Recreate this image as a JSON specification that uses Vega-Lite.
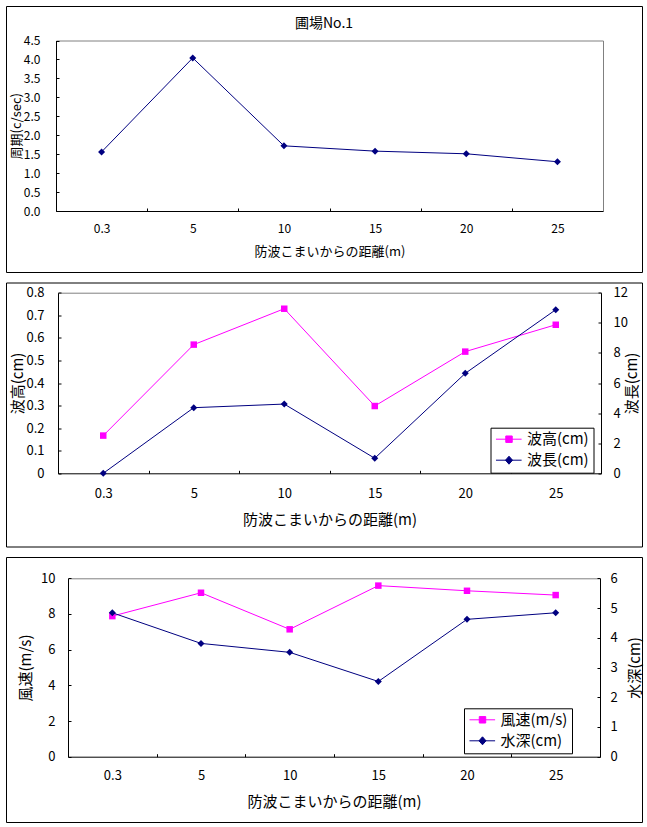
{
  "$schema": "https://vega.github.io/schema/vega-lite/v6.json",
  "padding": {"left": 5, "top": 5, "right": 0, "bottom": 0},
  "spacing": 8.5,
  "datasets": {
    "p1": [
      {"d": "0.3", "v": 1.56},
      {"d": "5", "v": 4.04},
      {"d": "10", "v": 1.72},
      {"d": "15", "v": 1.58},
      {"d": "20", "v": 1.51},
      {"d": "25", "v": 1.30}
    ],
    "p2": [
      {"d": "0.3", "s": "波高(cm)", "v": 0.167},
      {"d": "5", "s": "波高(cm)", "v": 0.570},
      {"d": "10", "s": "波高(cm)", "v": 0.729},
      {"d": "15", "s": "波高(cm)", "v": 0.298},
      {"d": "20", "s": "波高(cm)", "v": 0.539},
      {"d": "25", "s": "波高(cm)", "v": 0.658},
      {"d": "0.3", "s": "波長(cm)", "v": 0},
      {"d": "5", "s": "波長(cm)", "v": 4.36},
      {"d": "10", "s": "波長(cm)", "v": 4.6},
      {"d": "15", "s": "波長(cm)", "v": 1.0},
      {"d": "20", "s": "波長(cm)", "v": 6.64},
      {"d": "25", "s": "波長(cm)", "v": 10.87}
    ],
    "p3": [
      {"d": "0.3", "s": "風速(m/s)", "v": 7.88},
      {"d": "5", "s": "風速(m/s)", "v": 9.19},
      {"d": "10", "s": "風速(m/s)", "v": 7.14},
      {"d": "15", "s": "風速(m/s)", "v": 9.59},
      {"d": "20", "s": "風速(m/s)", "v": 9.30},
      {"d": "25", "s": "風速(m/s)", "v": 9.06},
      {"d": "0.3", "s": "水深(cm)", "v": 4.84},
      {"d": "5", "s": "水深(cm)", "v": 3.81},
      {"d": "10", "s": "水深(cm)", "v": 3.51},
      {"d": "15", "s": "水深(cm)", "v": 2.53},
      {"d": "20", "s": "水深(cm)", "v": 4.62},
      {"d": "25", "s": "水深(cm)", "v": 4.84}
    ]
  },
  "vconcat": [
    {
      "width": 636,
      "height": 266,
      "title": {"text": "圃場No.1", "fontSize": 14, "fontWeight": "normal", "offset": -31.5, "baseline": "middle", "color": "black"},
      "data": {"name": "p1"},
      "layer": [
        {
          "mark": {"type": "line", "color": "#000080", "strokeWidth": 1, "point": {"shape": "diamond", "size": 49, "filled": true, "color": "#000080"}},
          "encoding": {
            "x": {"field": "d", "type": "ordinal", "sort": ["0.3", "5", "10", "15", "20", "25"],
              "scale": {"type": "band", "range": [50, 597], "paddingInner": 0, "paddingOuter": 0},
              "axis": {"orient": "bottom", "offset": -61, "title": "防波こまいからの距離(m)", "titleY": 40, "titleBaseline": "middle", "titleFontSize": 13, "labelFontSize": 12, "labelAngle": 0, "tickBand": "extent", "tickSize": -3, "labelPadding": 15}},
            "y": {"field": "v", "type": "quantitative",
              "scale": {"domain": [0, 4.5], "range": [205, 34.5], "nice": false},
              "axis": {"orient": "left", "offset": -50, "values": [0, 0.5, 1, 1.5, 2, 2.5, 3, 3.5, 4, 4.5], "format": ".1f", "title": "周期(c/sec)", "titleX": -40, "titleBaseline": "middle", "titleFontSize": 13, "labelFontSize": 12, "tickSize": -3, "labelPadding": 19}}
          }
        },
        {
          "mark": {"type": "point", "opacity": 0},
          "encoding": {
            "x": {"field": "d", "type": "ordinal", "sort": ["0.3", "5", "10", "15", "20", "25"],
              "scale": {"type": "band", "range": [50, 597], "paddingInner": 0, "paddingOuter": 0},
              "axis": {"orient": "top", "offset": -34.5, "labels": false, "ticks": false, "title": null, "domainColor": "#808080"}},
            "y": {"field": "v", "type": "quantitative",
              "scale": {"domain": [0, 4.5], "range": [205, 34.5], "nice": false},
              "axis": {"orient": "right", "offset": -39, "labels": false, "ticks": false, "title": null, "domainColor": "#808080"}}
          }
        }
      ],
      "resolve": {"axis": {"x": "independent", "y": "independent"}}
    },
    {
      "width": 636,
      "height": 264,
      "data": {"name": "p2"},
      "layer": [
        {
          "transform": [{"filter": "datum.s === '波高(cm)'"}],
          "mark": {"type": "line", "strokeWidth": 1, "point": {"shape": "square", "size": 42, "filled": true}},
          "encoding": {
            "x": {"field": "d", "type": "ordinal", "sort": ["0.3", "5", "10", "15", "20", "25"],
              "scale": {"type": "band", "range": [52, 595], "paddingInner": 0, "paddingOuter": 0},
              "axis": {"orient": "bottom", "offset": -73.2, "title": "防波こまいからの距離(m)", "titleY": 46, "titleBaseline": "middle", "titleFontSize": 15, "labelFontSize": 13, "labelAngle": 0, "tickBand": "extent", "tickSize": -3, "labelPadding": 17}},
            "y": {"field": "v", "type": "quantitative",
              "scale": {"domain": [0, 0.8], "range": [190.8, 10.2], "nice": false},
              "axis": {"orient": "left", "offset": -52, "values": [0, 0.1, 0.2, 0.3, 0.4, 0.5, 0.6, 0.7, 0.8], "format": "~g", "title": "波高(cm)", "titleX": -40.4, "titleBaseline": "middle", "titleFontSize": 15, "labelFontSize": 13, "tickSize": -3, "labelPadding": 17}},
            "color": {"field": "s", "type": "nominal",
              "scale": {"domain": ["波高(cm)", "波長(cm)"], "range": ["#ff00ff", "#000080"]},
              "legend": {"title": null, "orient": "none", "legendX": 484.5, "legendY": 145.2, "strokeColor": "black", "fillColor": "white", "padding": 4, "rowPadding": 5, "labelFontSize": 15, "labelColor": "black", "labelOffset": 17.5, "symbolSize": 196, "symbolStrokeWidth": 1,
                "encode": {"symbols": {"update": {
                  "shape": {"signal": "datum.value === '波高(cm)' ? 'M-0.86,0H2.8M0.54,-0.46H1.46V0.46H0.54Z' : 'M-0.86,0H2.8M1,-0.57L1.5,0L1,0.57L0.5,0Z'"},
                  "fill": {"signal": "datum.value === '波高(cm)' ? '#ff00ff' : '#000080'"},
                  "stroke": {"signal": "datum.value === '波高(cm)' ? '#ff00ff' : '#000080'"},
                  "opacity": {"value": 1}
                }}}}}
          }
        },
        {
          "transform": [{"filter": "datum.s === '波長(cm)'"}],
          "mark": {"type": "line", "strokeWidth": 1, "point": {"shape": "diamond", "size": 49, "filled": true}},
          "encoding": {
            "x": {"field": "d", "type": "ordinal", "sort": ["0.3", "5", "10", "15", "20", "25"],
              "scale": {"type": "band", "range": [52, 595], "paddingInner": 0, "paddingOuter": 0},
              "axis": {"orient": "top", "offset": -10.2, "labels": false, "ticks": false, "title": null, "domainColor": "#808080"}},
            "y": {"field": "v", "type": "quantitative",
              "scale": {"domain": [0, 12], "range": [190.8, 10.2], "nice": false},
              "axis": {"orient": "right", "offset": -41, "values": [0, 2, 4, 6, 8, 10, 12], "title": "波長(cm)", "titleAngle": 270, "titleX": 30.7, "titleBaseline": "middle", "titleFontSize": 15, "labelFontSize": 13, "tickSize": -3, "labelPadding": 15}},
            "color": {"field": "s", "type": "nominal",
              "scale": {"domain": ["波高(cm)", "波長(cm)"], "range": ["#ff00ff", "#000080"]}}
          }
        }
      ],
      "resolve": {"scale": {"y": "independent"}, "axis": {"x": "independent", "y": "independent"}}
    },
    {
      "width": 636,
      "height": 265,
      "data": {"name": "p3"},
      "layer": [
        {
          "transform": [{"filter": "datum.s === '風速(m/s)'"}],
          "mark": {"type": "line", "strokeWidth": 1, "point": {"shape": "square", "size": 42, "filled": true}},
          "encoding": {
            "x": {"field": "d", "type": "ordinal", "sort": ["0.3", "5", "10", "15", "20", "25"],
              "scale": {"type": "band", "range": [62, 594], "paddingInner": 0, "paddingOuter": 0},
              "axis": {"orient": "bottom", "offset": -65.3, "title": "防波こまいからの距離(m)", "titleY": 44.3, "titleBaseline": "middle", "titleFontSize": 15, "labelFontSize": 13, "labelAngle": 0, "tickBand": "extent", "tickSize": -3, "labelPadding": 16}},
            "y": {"field": "v", "type": "quantitative",
              "scale": {"domain": [0, 10], "range": [199.7, 21.3], "nice": false},
              "axis": {"orient": "left", "offset": -62, "values": [0, 2, 4, 6, 8, 10], "title": "風速(m/s)", "titleX": -43, "titleBaseline": "middle", "titleFontSize": 15, "labelFontSize": 13, "tickSize": -3, "labelPadding": 16}},
            "color": {"field": "s", "type": "nominal",
              "scale": {"domain": ["風速(m/s)", "水深(cm)"], "range": ["#ff00ff", "#000080"]},
              "legend": {"title": null, "orient": "none", "legendX": 458, "legendY": 151.3, "strokeColor": "black", "fillColor": "white", "padding": 4, "rowPadding": 5, "labelFontSize": 15, "labelColor": "black", "labelOffset": 17.5, "symbolSize": 196, "symbolStrokeWidth": 1,
                "encode": {"symbols": {"update": {
                  "shape": {"signal": "datum.value === '風速(m/s)' ? 'M-0.86,0H2.8M0.54,-0.46H1.46V0.46H0.54Z' : 'M-0.86,0H2.8M1,-0.57L1.5,0L1,0.57L0.5,0Z'"},
                  "fill": {"signal": "datum.value === '風速(m/s)' ? '#ff00ff' : '#000080'"},
                  "stroke": {"signal": "datum.value === '風速(m/s)' ? '#ff00ff' : '#000080'"},
                  "opacity": {"value": 1}
                }}}}}
          }
        },
        {
          "transform": [{"filter": "datum.s === '水深(cm)'"}],
          "mark": {"type": "line", "strokeWidth": 1, "point": {"shape": "diamond", "size": 49, "filled": true}},
          "encoding": {
            "x": {"field": "d", "type": "ordinal", "sort": ["0.3", "5", "10", "15", "20", "25"],
              "scale": {"type": "band", "range": [62, 594], "paddingInner": 0, "paddingOuter": 0},
              "axis": {"orient": "top", "offset": -21.3, "labels": false, "ticks": false, "title": null, "domainColor": "#808080"}},
            "y": {"field": "v", "type": "quantitative",
              "scale": {"domain": [0, 6], "range": [199.7, 21.3], "nice": false},
              "axis": {"orient": "right", "offset": -42, "values": [0, 1, 2, 3, 4, 5, 6], "title": "水深(cm)", "titleAngle": 270, "titleX": 34.6, "titleBaseline": "middle", "titleFontSize": 15, "labelFontSize": 13, "tickSize": -3, "labelPadding": 13}},
            "color": {"field": "s", "type": "nominal",
              "scale": {"domain": ["風速(m/s)", "水深(cm)"], "range": ["#ff00ff", "#000080"]}}
          }
        }
      ],
      "resolve": {"scale": {"y": "independent"}, "axis": {"x": "independent", "y": "independent"}}
    }
  ],
  "resolve": {"scale": {"x": "independent", "y": "independent", "color": "independent"}, "legend": {"color": "independent"}},
  "config": {
    "background": "white",
    "font": "Noto Sans CJK JP",
    "view": {"stroke": "black", "strokeWidth": 1, "fill": "white"},
    "axis": {"grid": false, "domainColor": "black", "domainWidth": 1, "tickColor": "black", "tickWidth": 1, "labelColor": "black", "titleColor": "black", "titleFontWeight": "normal", "labelOverlap": false, "labelFont": "Noto Sans CJK JP", "titleFont": "Noto Sans CJK JP"},
    "legend": {"labelFont": "Noto Sans CJK JP"},
    "title": {"font": "Noto Sans CJK JP"}
  }
}
